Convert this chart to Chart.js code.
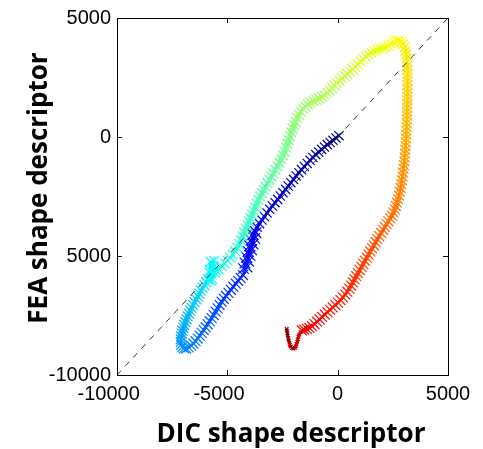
<!DOCTYPE html>
<html>
<head>
<meta charset="utf-8">
<script src="https://cdn.jsdelivr.net/npm/chart.js@4.4.1/dist/chart.umd.min.js"></script>
<style>
  html, body { margin: 0; padding: 0; background: #fff; }
  #wrap { width: 483px; height: 449px; }
</style>
</head>
<body>
<div id="wrap"><canvas id="myChart" width="483" height="449"></canvas></div>
<script>
// shape descriptor per frame: DIC (x) against FEA (y)
const dicX = [
  60, -80, -210, -340, -470, -600, -730, -860, -990, -1120, -1250, -1380, -1510, -1640, -1760, -1880,
  -2000, -2120, -2240, -2360, -2480, -2600, -2720, -2840, -2960, -3080, -3200, -3320, -3430, -3540, -3650, -3760,
  -3850, -3700, -3920, -3760, -3990, -3830, -4060, -3900, -4130, -3970, -4200, -4040, -4270, -4110,
  -4290, -4400, -4510, -4620, -4730, -4840, -4950, -5060, -5160, -5260, -5350, -5440, -5530, -5620,
  -5710, -5800, -5890, -5980, -6070, -6160, -6250, -6340, -6440, -6540, -6640, -6750, -6860,
  -6960, -7040, -7090, -7110, -7110, -7090, -7060, -7030, -6990, -6950, -6900, -6850, -6800, -6740,
  -6680, -6620, -6550, -6480, -6410, -6340, -6270, -6200, -6120, -6040, -5960, -5880,
  -5800, -5760, -5700, -5600, -5780, -5560, -5720, -5620, -5520,
  -5400, -5260, -5120, -4990, -4870, -4760, -4650, -4550, -4460, -4380,
  -4300, -4230, -4160, -4090, -4020, -3950, -3880, -3810, -3740, -3670,
  -3590, -3510, -3430, -3350, -3270, -3180, -3090, -3000, -2910, -2820,
  -2730, -2640, -2560, -2480, -2410, -2340, -2280, -2220, -2160, -2100,
  -2040, -1980, -1910, -1840, -1760, -1670, -1570, -1460, -1350, -1230,
  -1100, -970, -840, -710, -590, -470, -360, -250, -140, -30,
  80, 200, 320, 440, 560, 680, 800, 920, 1040, 1160,
  1280, 1400, 1530, 1660, 1790, 1920, 2050, 2180, 2300, 2420,
  2540, 2660, 2780,
  2890, 2970, 3030, 3080, 3110, 3130, 3145, 3155, 3160, 3165, 3165, 3165, 3165, 3165, 3165,
  3162, 3160, 3157, 3153, 3148, 3143, 3137, 3130, 3123, 3115, 3107, 3098, 3088, 3077, 3065,
  3052, 3038, 3022, 3004, 2984, 2962, 2938, 2912, 2884, 2853, 2818, 2778, 2733, 2682,
  2640, 2590, 2530, 2460, 2380, 2300, 2220, 2140, 2060, 1970, 1880, 1800, 1720, 1640,
  1560, 1480, 1400, 1320, 1240, 1160, 1080, 1000, 915, 840, 765, 690, 610, 525, 435,
  340, 240, 130, 15, -105, -225, -345, -465, -585, -705, -820, -935, -1050, -1165,
  -1280, -1400, -1520, -1620,
  -1680, -1730, -1770, -1800, -1830, -1860, -1900, -1950, -2010, -2070, -2120, -2160,
  -2190, -2215, -2240, -2260, -2280, -2300, -2310
];
const feaY = [
  56, -40, -140, -230, -320, -420, -520, -630, -740, -860, -980, -1110, -1240, -1370, -1500, -1640,
  -1780, -1920, -2060, -2200, -2340, -2480, -2620, -2760, -2900, -3040, -3190, -3340, -3490, -3640, -3790, -3940,
  -4090, -4020, -4330, -4260, -4570, -4500, -4810, -4740, -5050, -4980, -5290, -5220, -5530, -5460,
  -5800, -5920, -6040, -6160, -6290, -6420, -6550, -6680, -6800, -6920, -7060, -7200, -7340, -7480,
  -7610, -7740, -7870, -7990, -8110, -8230, -8350, -8470, -8580, -8680, -8770, -8840, -8890,
  -8880, -8820, -8730, -8620, -8500, -8380, -8260, -8140, -8020, -7900, -7780, -7660, -7540, -7420,
  -7300, -7180, -7060, -6940, -6820, -6700, -6580, -6460, -6340, -6220, -6100, -5980,
  -5700, -5250, -5950, -5200, -5600, -5700, -6050, -5450, -5600,
  -5550, -5430, -5310, -5190, -5070, -4940, -4800, -4650, -4500, -4340,
  -4180, -4020, -3860, -3710, -3560, -3410, -3260, -3110, -2960, -2800,
  -2650, -2500, -2360, -2220, -2080, -1940, -1800, -1660, -1520, -1380,
  -1230, -1080, -930, -770, -610, -450, -290, -130, 30, 190,
  350, 500, 650, 800, 940, 1070, 1180, 1280, 1370, 1450,
  1510, 1560, 1610, 1680, 1760, 1850, 1950, 2050, 2160, 2260,
  2360, 2460, 2560, 2650, 2750, 2850, 2950, 3050, 3160, 3270,
  3370, 3460, 3540, 3610, 3660, 3700, 3730, 3770, 3830, 3910,
  3990, 4040, 4050,
  4000, 3900, 3770, 3620, 3460, 3300, 3140, 2980, 2820, 2660, 2500, 2340, 2180, 2020, 1860,
  1700, 1540, 1380, 1220, 1060, 900, 740, 580, 420, 260, 100, -60, -220, -380, -540,
  -700, -860, -1020, -1180, -1340, -1500, -1660, -1820, -1980, -2140, -2300, -2460, -2610, -2760,
  -2900, -3040, -3170, -3300, -3420, -3540, -3660, -3780, -3900, -4030, -4160, -4290, -4420, -4550,
  -4680, -4810, -4940, -5070, -5200, -5330, -5460, -5590, -5720, -5850, -5980, -6110, -6240, -6370, -6500,
  -6620, -6740, -6850, -6960, -7060, -7160, -7260, -7360, -7460, -7560, -7660, -7760, -7860, -7950,
  -8020, -8060, -8090, -8130,
  -8200, -8300, -8400, -8500, -8600, -8700, -8790, -8860, -8890, -8870, -8810, -8730,
  -8640, -8540, -8440, -8340, -8240, -8140, -8060
];
const diagX = [-10000, 5000];
const diagY = [-10000, 5000];
const xTicks = [-10000, -5000, 0, 5000];
const yTicks = [-10000, -5000, 0, 5000];
const xTitle = 'DIC shape descriptor';
const yTitle = 'FEA shape descriptor';

// jet colour by frame: [point index, colormap position]
const colourKnots = [[0, 0], [38, 0.125], [103, 0.375], [189, 0.625], [276, 0.875], [300, 1]];

function jet(t) {
  const c = v => Math.round(255 * Math.min(1, Math.max(0, v)));
  return 'rgb(' + c(1.5 - Math.abs(4 * t - 3)) + ',' + c(1.5 - Math.abs(4 * t - 2)) + ',' + c(1.5 - Math.abs(4 * t - 1)) + ')';
}
function colourAt(i) {
  for (let k = 1; k < colourKnots.length; k++) {
    const [i0, t0] = colourKnots[k - 1], [i1, t1] = colourKnots[k];
    if (i <= i1) return jet(t0 + (t1 - t0) * (i - i0) / (i1 - i0));
  }
  return jet(1);
}
function sizeAt(i) {
  if (i <= 31) return 6.5;
  if (i <= 45) return 7.5;
  if (i >= 282) return 2.5;
  return 7;
}

const points = dicX.map((v, i) => ({ x: v, y: feaY[i] }));
const diagonal = diagX.map((v, i) => ({ x: v, y: diagY[i] }));

const framePlugin = {
  id: 'frame',
  afterDraw(chart) {
    const { ctx, chartArea: a, scales } = chart;
    ctx.save();
    ctx.strokeStyle = '#000';
    ctx.lineWidth = 1;
    ctx.strokeRect(a.left + 0.5, a.top + 0.5, a.right - a.left, a.bottom - a.top);
    ctx.beginPath();
    xTicks.forEach(v => {
      const px = Math.round(scales.x.getPixelForValue(v)) + 0.5;
      ctx.moveTo(px, a.bottom); ctx.lineTo(px, a.bottom - 5);
      ctx.moveTo(px, a.top); ctx.lineTo(px, a.top + 5);
    });
    yTicks.forEach(v => {
      const py = Math.round(scales.y.getPixelForValue(v)) + 0.5;
      ctx.moveTo(a.left, py); ctx.lineTo(a.left + 5, py);
      ctx.moveTo(a.right, py); ctx.lineTo(a.right - 5, py);
    });
    ctx.stroke();

    // y title sits on a white box that hides part of the tick labels
    ctx.fillStyle = '#fff';
    ctx.fillRect(0, 40, 66, 305);
    ctx.fillStyle = '#000';
    ctx.font = 'bold 26px "Open Sans"';
    ctx.textAlign = 'center';
    ctx.textBaseline = 'alphabetic';
    ctx.save();
    ctx.translate(47, 188);
    ctx.rotate(-Math.PI / 2);
    ctx.fillText(yTitle, 0, 0);
    ctx.restore();
    ctx.fillText(xTitle, 291, 442);
    ctx.restore();
  }
};

const tickFont = { family: '"Liberation Sans", Arial, sans-serif', size: 20 };

new Chart(document.getElementById('myChart'), {
  type: 'scatter',
  data: {
    datasets: [
      {
        data: diagonal,
        showLine: true,
        borderColor: '#333',
        borderWidth: 1,
        borderDash: [6, 6],
        pointRadius: 0
      },
      {
        data: points,
        showLine: true,
        borderWidth: 2.5,
        segment: { borderColor: c => colourAt(c.p0DataIndex) },
        pointStyle: 'crossRot',
        pointRadius: c => sizeAt(c.dataIndex),
        pointBorderWidth: 1.2,
        pointBorderColor: c => colourAt(c.dataIndex),
        pointBackgroundColor: c => colourAt(c.dataIndex)
      }
    ]
  },
  options: {
    responsive: false,
    animation: false,
    layout: { padding: { top: 14, right: 35, bottom: 0, left: 0 } },
    plugins: { legend: { display: false }, tooltip: { enabled: false } },
    scales: {
      x: {
        type: 'linear',
        min: -10000,
        max: 5000,
        afterBuildTicks: s => { s.ticks = xTicks.map(v => ({ value: v })); },
        afterFit: s => { s.height = 74; },
        grid: { display: false, drawTicks: false },
        border: { display: false },
        ticks: {
          color: '#000',
          font: tickFont,
          padding: 7,
          maxRotation: 0,
          autoSkip: false,
          callback: v => v < 0 ? v + '   ' : String(v)
        }
      },
      y: {
        type: 'linear',
        min: -10000,
        max: 5000,
        afterBuildTicks: s => { s.ticks = yTicks.map(v => ({ value: v })); },
        afterFit: s => { s.width = 117; },
        grid: { display: false, drawTicks: false },
        border: { display: false },
        ticks: {
          color: '#000',
          font: tickFont,
          padding: 6,
          autoSkip: false,
          callback: v => String(v)
        }
      }
    }
  },
  plugins: [framePlugin]
});
</script>
</body>
</html>
